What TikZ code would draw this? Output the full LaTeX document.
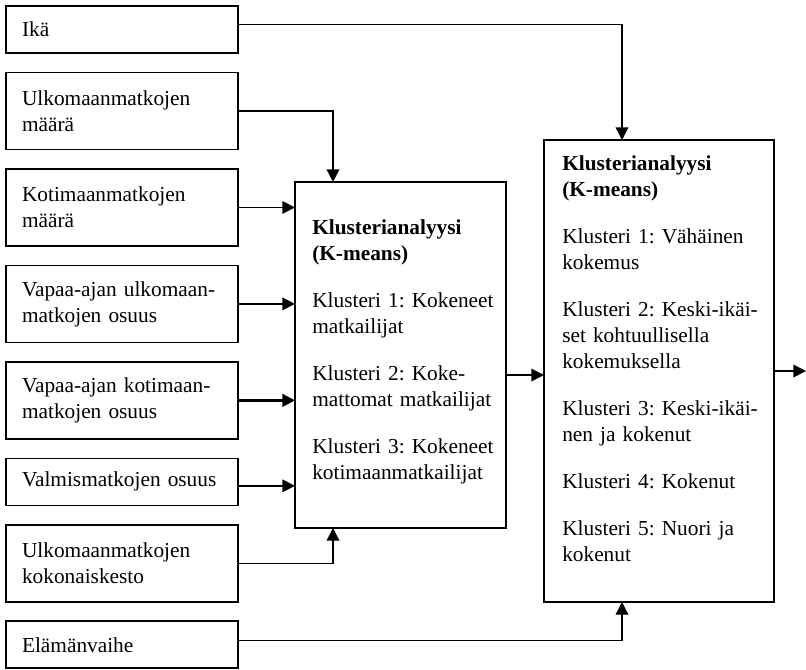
\documentclass[tikz,border=0pt]{standalone}
\usepackage{fontspec}
\setmainfont{Liberation Serif}
\usepackage{tikz}
\usetikzlibrary{arrows.meta, positioning, calc}

\begin{document}
\begin{tikzpicture}[
    x=0.75pt, y=-0.75pt,
    node distance=14.6pt,
    factor/.style={rectangle, draw=black, line width=1.2pt, outer sep=0pt, minimum width=174pt, minimum height=35.25pt, text width=150pt, inner xsep=12pt, align=left, font=\fontsize{16pt}{19.5pt}\selectfont\frenchspacing},
    factor2/.style={factor, minimum height=57.75pt},
    analysis/.style={rectangle, draw=black, line width=1.2pt, outer sep=0pt, anchor=north west},
    result/.style={anchor=north west, inner sep=0pt, align=left, font=\fontsize{16pt}{19.5pt}\selectfont\frenchspacing},
    arrow/.style={-{Triangle[length=9.5pt, width=9.5pt]}, line width=1pt}
]
    \useasboundingbox (0,0) rectangle (806,669);

    \node (ika) [factor, anchor=north west] at (6,6) {Ikä};
    \node (ulkm) [factor2, below=of ika] {Ulkomaanmatkojen\\määrä};
    \node (kotm) [factor2, below=of ulkm] {Kotimaanmatkojen\\määrä};
    \node (vulk) [factor2, below=of kotm] {Vapaa-ajan ulkomaan-\\matkojen osuus};
    \node (vkot) [factor2, below=of vulk] {Vapaa-ajan kotimaan-\\matkojen osuus};
    \node (valm) [factor, below=of vkot] {Valmismatkojen osuus};
    \node (kesto) [factor2, below=of valm] {Ulkomaanmatkojen\\kokonaiskesto};
    \node (vaihe) [factor, below=of kesto] {Elämänvaihe};

    \node (mid) [analysis, minimum width=158.25pt, minimum height=259.5pt] at (295,182) {};
    \node (right) [analysis, minimum width=172.5pt, minimum height=346.5pt] at (544,140) {};

    \node (midtxt) [result, text width=140pt] at ($(mid.north west)+(17,37)$) {\textbf{Klusterianalyysi}\\\textbf{(K-means)}\\[15.75pt]Klusteri 1: Kokeneet\\matkailijat\\[15.75pt]Klusteri 2: Koke-\\mattomat matkailijat\\[15.75pt]Klusteri 3: Kokeneet\\kotimaanmatkailijat};
    \node (righttxt) [result, text width=155pt] at ($(right.north west)+(18,15)$) {\textbf{Klusterianalyysi}\\\textbf{(K-means)}\\[15.75pt]Klusteri 1: Vähäinen\\kokemus\\[15.75pt]Klusteri 2: Keski-ikäi-\\set kohtuullisella\\kokemuksella\\[15.75pt]Klusteri 3: Keski-ikäi-\\nen ja kokenut\\[15.75pt]Klusteri 4: Kokenut\\[15.75pt]Klusteri 5: Nuori ja\\kokenut};

    \coordinate (mtop) at ($(mid.north west)+(38,0)$);
    \coordinate (mbot) at ($(mid.south west)+(38,0)$);
    \coordinate (rtop) at ($(right.north west)+(78,0)$);
    \coordinate (rbot) at ($(right.south west)+(78,0)$);
    \coordinate (mout) at ($(mid.north east)+(0,193)$);
    \coordinate (exit) at ($(right.east)+(32,0)$);

    \draw [arrow] ([yshift=4pt]ika.east) -| (rtop);
    \draw [arrow] (ulkm.east) -| (mtop);
    \draw [arrow] (kotm.east) -- (kotm.east -| mid.west);
    \draw [arrow] (vulk.east) -- (vulk.east -| mid.west);
    \draw [arrow, line width=1.7pt] (vkot.east) -- (vkot.east -| mid.west);
    \draw [arrow] ([yshift=-3pt]valm.east) -- ([yshift=-3pt]valm.east -| mid.west);
    \draw [arrow] (kesto.east) -| (mbot);
    \draw [arrow] ([yshift=3pt]vaihe.east) -| (rbot);
    \draw [arrow] (mout) -- (mout -| right.west);
    \draw [arrow] (right.east) -- (exit);
\end{tikzpicture}
\end{document}
